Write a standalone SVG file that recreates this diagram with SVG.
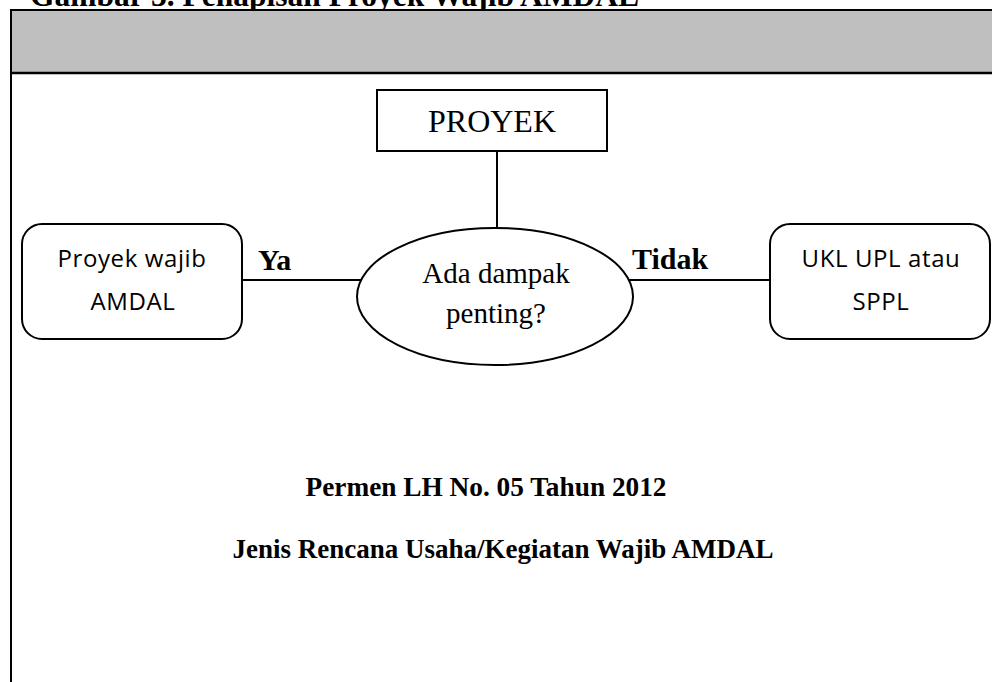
<svg xmlns="http://www.w3.org/2000/svg" width="992" height="682" viewBox="0 0 992 682">
<style>
.ln{stroke:#000;stroke-width:2;fill:none}
.box{stroke:#000;stroke-width:2;fill:#fff}
.serif{font-family:"Liberation Serif","Times New Roman",serif;fill:#000}
.b{font-weight:bold}
.sans{font-family:"Open Sans","Liberation Sans",sans-serif;font-size:24px;letter-spacing:0.6px;fill:#000}
</style>
<rect width="992" height="682" fill="#fff"/>
<text class="serif b" x="30" y="6" font-size="31.5">Gambar 3. Penapisan Proyek Wajib AMDAL</text>
<g id="frame">
<rect x="10" y="10" width="984" height="63" fill="#bfbfbf"/>
<line x1="10" y1="10" x2="992" y2="10" class="ln"/>
<line x1="10" y1="73" x2="992" y2="73" stroke="#000" stroke-width="2.5"/>
<line x1="11" y1="9" x2="11" y2="682" class="ln"/>
</g>
<g id="connectors">
<line x1="497" y1="151" x2="497" y2="228" class="ln"/>
<line x1="242" y1="280" x2="361" y2="280" class="ln"/>
<line x1="629" y1="280" x2="770" y2="280" class="ln"/>
</g>
<g id="proyek">
<rect x="377" y="90" width="230" height="61" class="box"/>
<text class="serif" x="492" y="132" font-size="32" text-anchor="middle">PROYEK</text>
</g>
<g id="decision">
<ellipse cx="495" cy="296.5" rx="138" ry="68.5" class="box"/>
<text class="serif" x="496" y="283" font-size="29" text-anchor="middle">Ada dampak</text>
<text class="serif" x="496" y="323" font-size="29" text-anchor="middle">penting?</text>
</g>
<g id="wajib">
<rect x="22" y="224" width="220" height="115" rx="20" class="box"/>
<text class="sans" x="132" y="267" text-anchor="middle">Proyek wajib</text>
<text class="sans" x="133" y="310" text-anchor="middle">AMDAL</text>
</g>
<g id="ukl">
<rect x="770" y="224" width="220" height="115" rx="20" class="box"/>
<text class="sans" x="881" y="267" text-anchor="middle">UKL UPL atau</text>
<text class="sans" x="881" y="310" text-anchor="middle">SPPL</text>
</g>
<g id="labels">
<text class="serif b" x="258" y="270" font-size="30">Ya</text>
<text class="serif b" x="632" y="269" font-size="30">Tidak</text>
</g>
<g id="caption">
<text class="serif b" x="486" y="496" font-size="27.3" text-anchor="middle">Permen LH No. 05 Tahun 2012</text>
<text class="serif b" x="503" y="558" font-size="27" text-anchor="middle">Jenis Rencana Usaha/Kegiatan Wajib AMDAL</text>
</g>
</svg>
